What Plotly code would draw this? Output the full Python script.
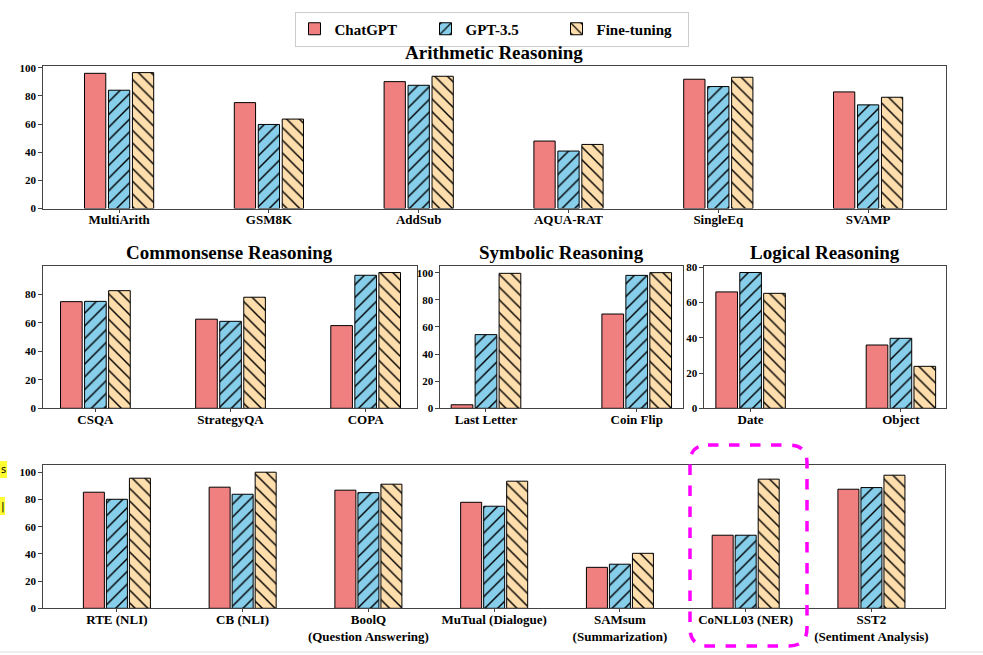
import plotly.graph_objects as go

W, H = 983, 655

series = ["ChatGPT", "GPT-3.5", "Fine-tuning"]

arith_cats = ["MultiArith", "GSM8K", "AddSub", "AQUA-RAT", "SingleEq", "SVAMP"]
arith_chatgpt = [96.0, 75.2, 90.1, 47.9, 91.8, 82.8]
arith_gpt35 = [84.0, 59.7, 87.5, 40.8, 86.6, 73.6]
arith_ft = [96.5, 63.5, 93.9, 45.5, 93.2, 79.0]

common_cats = ["CSQA", "StrategyQA", "COPA"]
common_chatgpt = [74.8, 62.5, 58.0]
common_gpt35 = [75.0, 61.0, 93.3]
common_ft = [82.5, 77.9, 95.2]

sym_cats = ["Last Letter", "Coin Flip"]
sym_chatgpt = [2.6, 69.5]
sym_gpt35 = [54.3, 98.0]
sym_ft = [99.5, 100.0]

logic_cats = ["Date", "Object"]
logic_chatgpt = [66.0, 35.9]
logic_gpt35 = [77.0, 39.7]
logic_ft = [65.2, 23.8]

other_cats = ["RTE (NLI)", "CB (NLI)", "BoolQ<br>(Question Answering)", "MuTual (Dialogue)",
              "SAMsum<br>(Summarization)", "CoNLL03 (NER)", "SST2<br>(Sentiment Analysis)"]
other_chatgpt = [85.3, 89.0, 86.8, 77.9, 30.1, 53.7, 87.5]
other_gpt35 = [80.1, 83.8, 85.0, 75.0, 32.4, 53.7, 88.7]
other_ft = [95.6, 100.0, 91.2, 93.4, 40.4, 94.9, 97.8]

panel_titles = ["Arithmetic Reasoning", "Commonsense Reasoning", "Symbolic Reasoning", "Logical Reasoning", None]

FONT = "Liberation Serif"
colors = ["#F08080", "#87CEEB", "#FFDEAD"]
patterns = ["", "/", "\\"]


def px(x):
    return x / W


def py(y):
    return 1 - y / H


# panel: (cats, [vals], x-domain px, y-domain px, bar width, bar spacing, xrange, ymax)
panels = [
    (arith_cats, [arith_chatgpt, arith_gpt35, arith_ft], (42.7, 946), (66, 208.5), 0.142, 0.16, (-0.51, 5.52), 101.2),
    (common_cats, [common_chatgpt, common_gpt35, common_ft], (42.7, 417), (266, 408.3), 0.16, 0.178, (-0.39, 2.38), 99.8),
    (sym_cats, [sym_chatgpt, sym_gpt35, sym_ft], (440, 683), (266, 408.3), 0.144, 0.159, (-0.305, 1.307), 104.9),
    (logic_cats, [logic_chatgpt, logic_gpt35, logic_ft], (704, 946), (266, 408.3), 0.144, 0.159, (-0.31, 1.30), 80.7),
    (other_cats, [other_chatgpt, other_gpt35, other_ft], (42.7, 945), (465, 608.3), 0.167, 0.183, (-0.59, 6.585), 105.3),
]

fig = go.Figure()
layout = dict(
    template="none",
    width=W, height=H,
    margin=dict(l=0, r=0, t=0, b=0, pad=0),
    paper_bgcolor="white", plot_bgcolor="white",
    font=dict(family=FONT, color="black"),
    barmode="overlay",
    showlegend=True,
    legend=dict(orientation="h", x=0.5, xanchor="center", y=py(29), yanchor="middle",
                font=dict(family=FONT, size=15, weight="bold", color="black"),
                bordercolor="#cccccc", borderwidth=1, bgcolor="white",
                itemwidth=30, entrywidth=86, tracegroupgap=0),
)
annotations = []
shapes = []

for k, (cats, vals, xd, yd, w, s, xr, ymax) in enumerate(panels):
    sfx = "" if k == 0 else str(k + 1)
    for i in range(3):
        fig.add_trace(go.Bar(
            x=cats, y=vals[i], name=series[i], legendgroup=series[i], showlegend=(k == 0),
            xaxis="x" + sfx, yaxis="y" + sfx,
            width=w, offset=(i - 1) * s - w / 2,
            marker=dict(color=colors[i], line=dict(color="black", width=1),
                        pattern=dict(shape=patterns[i], fgcolor="black", bgcolor=colors[i],
                                     size=9, solidity=0.16)),
            hoverinfo="x+y+name",
        ))
    axcommon = dict(showline=True, mirror=True, linecolor="#444444", linewidth=1.2, automargin=False,
                    showgrid=False, zeroline=False, ticks="outside", tickcolor="#444444", tickwidth=1)
    layout["xaxis" + sfx] = dict(axcommon, type="category", domain=[px(xd[0]), px(xd[1])],
                                 anchor="y" + sfx, range=list(xr), ticklen=3, ticklabelstandoff=-4,
                                 tickfont=dict(family=FONT, size=13, weight="bold", color="black"))
    layout["yaxis" + sfx] = dict(axcommon, domain=[py(yd[1]), py(yd[0])], anchor="x" + sfx,
                                 range=[0, ymax], dtick=20, ticklen=3.5,
                                 tickfont=dict(family=FONT, size=11, weight="bold", color="black"))
    if panel_titles[k]:
        annotations.append(dict(text=panel_titles[k], xref="x" + sfx + " domain", x=0.5,
                                yref="paper", y=py(yd[0] - 1), yanchor="bottom", showarrow=False,
                                font=dict(family=FONT, size=19, weight="bold", color="black")))


def rounded_rect(x0, y0, x1, y1, r):
    pts = []
    pts.append(f"M {px(x0 + r)},{py(y0)}")
    pts.append(f"L {px(x1 - r)},{py(y0)}")
    pts.append(f"Q {px(x1)},{py(y0)} {px(x1)},{py(y0 + r)}")
    pts.append(f"L {px(x1)},{py(y1 - r)}")
    pts.append(f"Q {px(x1)},{py(y1)} {px(x1 - r)},{py(y1)}")
    pts.append(f"L {px(x0 + r)},{py(y1)}")
    pts.append(f"Q {px(x0)},{py(y1)} {px(x0)},{py(y1 - r)}")
    pts.append(f"L {px(x0)},{py(y0 + r)}")
    pts.append(f"Q {px(x0)},{py(y0)} {px(x0 + r)},{py(y0)} Z")
    return " ".join(pts)


shapes.append(dict(type="path", xref="paper", yref="paper", path=rounded_rect(690, 445, 807, 646, 18),
                   line=dict(color="#FF00FF", width=3.5, dash="dash")))
# page separator line near bottom
shapes.append(dict(type="line", xref="paper", yref="paper", x0=0, x1=1, y0=py(652), y1=py(652),
                   line=dict(color="#dddddd", width=1)))
# yellow highlight fragments at left edge
shapes.append(dict(type="rect", xref="paper", yref="paper", x0=0, x1=px(7), y0=py(478), y1=py(461),
                   fillcolor="#FFFF33", line=dict(width=0), layer="below"))
shapes.append(dict(type="rect", xref="paper", yref="paper", x0=0, x1=px(5), y0=py(515), y1=py(497),
                   fillcolor="#FFFF33", line=dict(width=0), layer="below"))
annotations.append(dict(text="s", xref="paper", yref="paper", x=0, y=py(469), xanchor="left",
                        yanchor="middle", showarrow=False, borderpad=0,
                        font=dict(family="DejaVu Sans", size=10, color="black")))
annotations.append(dict(text="|", xref="paper", yref="paper", x=0, y=py(506), xanchor="left",
                        yanchor="middle", showarrow=False, borderpad=0,
                        font=dict(family="DejaVu Sans", size=11, color="black")))

layout["annotations"] = annotations
layout["shapes"] = shapes
fig.update_layout(**layout)
fig.write_html("out.html", config={"displayModeBar": False},
               post_script="document.body.style.margin='0';document.body.style.overflow='hidden';")
